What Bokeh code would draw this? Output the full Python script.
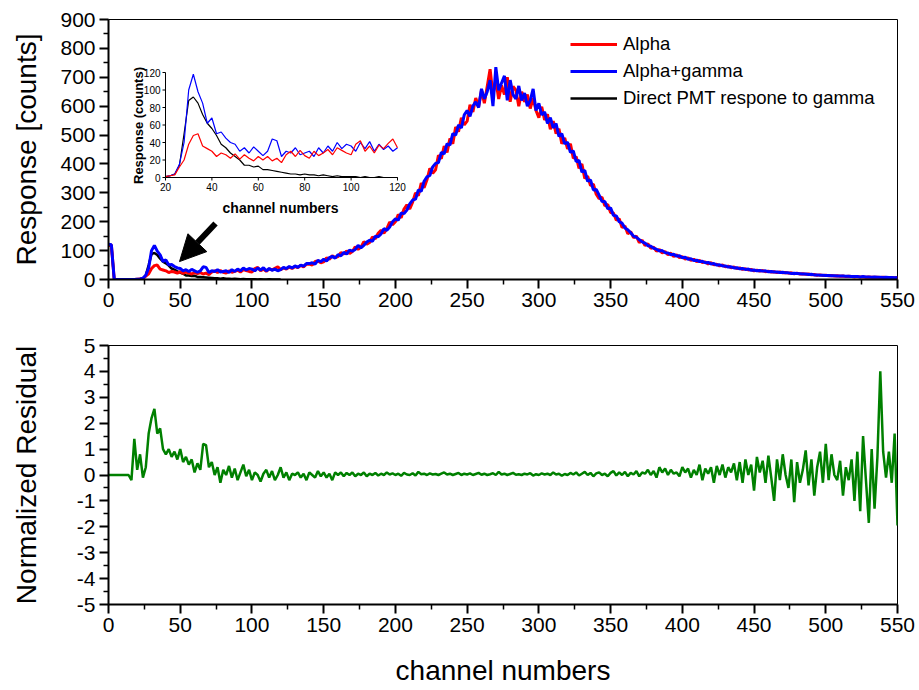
from bokeh.plotting import figure
from bokeh.layouts import column
from bokeh.models import (Range1d, Legend, LegendItem, Arrow, NormalHead, FixedTicker)
from bokeh.core.properties import value
from bokeh.embed import file_html
from bokeh.resources import INLINE

FONT = "Liberation Sans"

# ---------------- data ----------------
channels = list(range(0, 551, 2))

alpha = [
    118, 120, 0, 0, 0, 0, 0, 0, 0, 0,            # 0-18
    1, 2, 3, 12, 20, 38, 48, 50, 36, 33,         # 20-38
    30, 24, 28, 26, 22, 27, 21, 26, 22, 19,      # 40-58
    24, 20, 24, 19, 22, 17, 26, 30, 24, 31,      # 60-78
    25, 22, 30, 25, 28, 32, 26, 34, 31, 28,      # 80-98
    26, 38, 42, 30, 36, 28, 37, 33, 39, 44,      # 100-118
    34, 40, 36, 43, 38, 45, 41, 49, 44, 53,      # 120-138
    53, 50, 62, 64, 58, 61, 75, 70, 82, 76,      # 140-158
    79, 93, 88, 99, 90, 97, 113, 104, 112, 131,  # 160-178
    122, 128, 147, 141, 160, 170, 160, 175, 199, 190,  # 180-198
    200, 225, 214, 244, 258, 244, 268, 300, 290, 334,  # 200-218
    318, 345, 385, 368, 380, 430, 418, 462, 440, 488,  # 220-238
    470, 528, 512, 560, 535, 548, 605, 580, 628, 598,  # 240-258
    655, 610, 668, 728, 640, 690, 625, 672, 640, 700,  # 260-278
    615, 668, 655, 600, 650, 615, 640, 592, 628, 585,  # 280-298
    560, 598, 552, 572, 520, 548, 505, 522, 470, 490,  # 300-318
    452, 470, 420, 425, 385, 400, 350, 358, 325, 330,  # 320-338
    295, 280, 285, 255, 260, 232, 230, 205, 210, 180,  # 340-358
    185, 158, 166, 145, 150, 128, 136, 118, 124, 108,  # 360-378
    112, 98, 104, 92, 97, 86, 91, 80, 85, 76,    # 380-398
    79, 71, 75, 66, 70, 62, 66, 59, 61, 54,      # 400-418
    58, 51, 53, 47, 50, 44, 46, 41, 43, 38,      # 420-438
    40, 35, 37, 33, 35, 30, 32, 29, 31, 27,      # 440-458
    29, 26, 27, 24, 26, 23, 24, 22, 23, 20,      # 460-478
    22, 19, 20, 18, 19, 16, 17, 15, 16, 14,      # 480-498
    15, 13, 14, 12, 13, 11, 12, 10, 11, 10,      # 500-518
    9, 10, 9, 9, 8, 9, 8, 8, 8, 7,               # 520-538
    8, 7, 7, 7, 6, 7,                            # 540-550
]

alpha_gamma = [
    122, 120, 0, 0, 0, 0, 0, 0, 0, 0,            # 0-18
    1, 2, 4, 15, 40, 100, 118, 98, 85, 62,       # 20-38
    68, 50, 52, 45, 40, 38, 30, 34, 28, 35,      # 40-58
    30, 25, 30, 44, 42, 24, 30, 28, 34, 26,      # 60-78
    28, 30, 24, 34, 28, 36, 30, 40, 33, 38,      # 80-98
    36, 30, 40, 33, 41, 30, 38, 32, 36, 30,      # 100-118
    34, 42, 38, 45, 40, 47, 42, 50, 46, 55,      # 120-138
    55, 58, 53, 66, 62, 70, 64, 76, 80, 74,      # 140-158
    86, 82, 94, 88, 102, 98, 104, 118, 110, 118, # 160-178
    130, 136, 132, 150, 148, 158, 176, 170, 182, 200,  # 180-198
    210, 205, 230, 228, 240, 262, 275, 278, 310, 305,  # 200-218
    340, 355, 360, 390, 402, 405, 440, 435, 470, 465,  # 220-238
    505, 500, 535, 525, 570, 585, 565, 600, 615, 595,  # 240-258
    660, 625, 650, 690, 600, 735, 655, 680, 705, 620,  # 260-278
    690, 640, 625, 670, 620, 645, 600, 620, 660, 585,  # 280-298
    610, 570, 580, 540, 560, 525, 540, 495, 505, 470,  # 300-318
    475, 440, 445, 408, 412, 372, 378, 340, 345, 310,  # 320-338
    312, 292, 270, 270, 245, 248, 222, 220, 200, 195,  # 340-358
    178, 172, 162, 150, 146, 138, 130, 126, 117, 115,  # 360-378
    108, 105, 99, 100, 93, 92, 86, 87, 81, 82,   # 380-398
    75, 77, 70, 72, 66, 67, 62, 63, 58, 59,      # 400-418
    54, 55, 50, 51, 47, 47, 43, 44, 40, 41,      # 420-438
    37, 38, 35, 36, 32, 33, 30, 31, 29, 30,      # 440-458
    27, 28, 26, 26, 24, 25, 23, 23, 21, 22,      # 460-478
    21, 20, 19, 19, 17, 18, 16, 16, 15, 15,      # 480-498
    14, 14, 13, 13, 12, 12, 12, 11, 11, 10,      # 500-518
    10, 10, 9, 10, 9, 9, 8, 9, 8, 8,             # 520-538
    7, 8, 7, 7, 6, 7,                            # 540-550
]

gamma_channels = list(range(0, 121, 2))
gamma = [
    120, 118, 0, 0, 0, 0, 0, 0, 0, 0,            # 0-18
    1, 2, 4, 14, 50, 88, 92, 85, 72, 62,         # 20-38
    56, 48, 38, 34, 28, 24, 20, 14, 14, 12,      # 40-58
    13, 9, 9, 8, 7, 6, 5, 4, 4, 3,               # 60-78
    4, 3, 3, 2, 3, 2, 1, 2, 1, 1,                # 80-98
    1, 1, 0, 1, 0, 0, 1, 0, 0, 0, 0,             # 100-120
]

residual = [
    0, 0, 0, 0, 0, 0, 0, 0, -0.2, 1.4,                       # 0-18
    0.2, 0.8, -0.1, 0.3, 1.6, 2.2, 2.55, 1.6, 1.8, 1.0,      # 20-38
    0.8, 1.0, 0.7, 0.9, 0.6, 1.0, 0.5, 0.7, 0.4, 0.6,        # 40-58
    0.1, 0.45, 0.2, 1.2, 1.15, 0.3, 0.5, 0.0, 0.3, -0.3,     # 60-78
    0.2, 0.0, 0.35, -0.1, 0.25, -0.2, 0.1, 0.4, -0.05, 0.2,  # 80-98
    -0.2, 0.1, 0.0, -0.25, 0.05, 0.2, -0.1, 0.15, -0.2, 0.0, # 100-118
    0.3, -0.1, 0.1, -0.2, 0.05, 0.0, 0.1, -0.1, 0.05, -0.2,  # 120-138
    0.1, 0.0, -0.1, 0.15, -0.05, 0.1, -0.1, 0.05, -0.2, 0.1, # 140-158
    0.0, 0.1, -0.05, 0.08, 0.0, 0.1, -0.05, 0.05, 0.0, 0.1,  # 160-178
    -0.05, 0.05, 0.0, 0.08, -0.02, 0.05, 0.0, 0.1, 0.02, 0.06,  # 180-198
    0.0, 0.05, -0.03, 0.08, 0.02, 0.0, 0.07, -0.02, 0.12, 0.03,  # 200-218
    0.05, 0.0, 0.06, 0.02, 0.04, 0.0, 0.05, 0.1, 0.02, 0.05,     # 220-238
    0.0, 0.04, 0.08, 0.0, 0.05, 0.02, 0.06, 0.0, 0.04, 0.08,     # 240-258
    0.01, 0.05, 0.0, 0.03, 0.07, 0.0, 0.12, 0.02, 0.05, 0.0,     # 260-278
    0.04, 0.08, 0.01, 0.03, 0.0, 0.05, 0.02, 0.07, -0.02, 0.03,  # 280-298
    0.0, 0.06, 0.02, 0.05, 0.0, 0.1, 0.02, 0.05, -0.03, 0.04,    # 300-318
    0.0, 0.08, 0.02, 0.1, -0.02, 0.05, 0.12, 0.0, 0.08, -0.05,   # 320-338
    0.06, 0.1, 0.0, 0.05, -0.05, 0.08, 0.15, -0.02, 0.1, 0.0,    # 340-358
    0.12, -0.05, 0.08, 0.02, 0.15, -0.05, 0.1, 0.05, 0.2, 0.0,   # 360-378
    0.15, -0.1, 0.3, 0.1, 0.25, 0.0, 0.2, 0.05, 0.1, -0.05,      # 380-398
    0.3, 0.1, 0.25, -0.1, 0.2, 0.0, 0.4, -0.2, 0.25, 0.05,       # 400-418
    0.3, -0.3, 0.35, 0.0, 0.4, -0.1, 0.3, 0.1, 0.45, -0.2,       # 420-438
    0.5, -0.3, 0.6, 0.0, 0.4, -0.6, 0.7, 0.1, 0.55, -0.3,        # 440-458
    0.75, -0.1, -1.0, 0.6, -0.2, 0.8, 0.0, -0.5, 0.6, -1.05,     # 460-478
    0.5, -0.3, 0.2, 0.95, -0.4, 0.6, -0.8, 0.3, 0.9, -0.3,       # 480-498
    1.2, -0.2, 0.8, 0.0, -0.2, 0.55, -0.8, 0.3, -0.2, 0.6,       # 500-518
    -1.0, 0.9, -1.4, 1.5, -0.2, -1.85, 1.0, -1.3, 0.7, 4.0,      # 520-538
    0.9, -0.1, 0.9, -0.3, 1.6, -1.95,                            # 540-550
]

x_ticks = list(range(0, 551, 50))
x_minor = list(range(25, 551, 50))
top_y_ticks = list(range(0, 901, 100))
top_y_minor = list(range(50, 900, 100))
res_y_ticks = list(range(-5, 6))
res_y_minor = [t + 0.5 for t in range(-5, 5)]
res_y_labels = {t: str(t) for t in res_y_ticks}
inset_x_ticks = [20, 40, 60, 80, 100, 120]
inset_y_ticks = [0, 20, 40, 60, 80, 100, 120]

legend_labels = ["Alpha", "Alpha+gamma", "Direct PMT respone to gamma"]
RED, BLUE, BLACK, GREEN = "#ff0000", "#0000ff", "#000000", "#008000"

# ---------------- layout geometry (pixels) ----------------
W = 919
FL, FR = 108, 897          # frame left / right
TOP_T, TOP_B = 19, 279     # top frame
TOP_H = 320
BOT_T, BOT_B = 345, 604    # bottom frame (page coords)
BOT_H = 690 - TOP_H

# inset placement in the top frame (pixel box) and its data extents
IN_X0, IN_X1, IN_PX0, IN_PX1 = 20, 120, 165, 397
IN_Y0, IN_Y1, IN_PY0, IN_PY1 = 0, 120, 177, 72
sx = (IN_PX1 - IN_PX0) / (IN_X1 - IN_X0)
sy = (IN_PY0 - IN_PY1) / (IN_Y1 - IN_Y0)
ix_start = IN_X0 - (IN_PX0 - FL) / sx
ix_end = ix_start + (FR - FL) / sx
iy_start = IN_Y0 - (TOP_B - IN_PY0) / sy
iy_end = iy_start + (TOP_B - TOP_T) / sy


def style(p, yt, ym, y_standoff):
    p.xaxis.ticker = FixedTicker(ticks=x_ticks, minor_ticks=x_minor)
    p.yaxis.ticker = FixedTicker(ticks=yt, minor_ticks=ym)
    for ax in (p.xaxis[0], p.yaxis[0]):
        ax.axis_line_width = 2
        ax.axis_line_color = "black"
        ax.major_tick_line_width = 2
        ax.minor_tick_line_width = 1.5
        ax.major_tick_out = 9
        ax.major_tick_in = 0
        ax.minor_tick_out = 5
        ax.minor_tick_in = 0
        ax.major_label_text_font = FONT
        ax.major_label_text_font_size = "21px"
        ax.major_label_text_color = "black"
        ax.major_label_standoff = 4
        ax.axis_label_text_font = FONT
        ax.axis_label_text_font_size = "28px"
        ax.axis_label_text_font_style = "normal"
        ax.axis_label_text_color = "black"
    p.yaxis[0].axis_label_standoff = y_standoff
    p.xgrid.visible = False
    p.ygrid.visible = False
    p.outline_line_color = "black"
    p.outline_line_width = 1
    p.outline_line_alpha = 1
    p.background_fill_color = "white"
    p.border_fill_color = "white"


# ---------------- top panel ----------------
top = figure(width=W, height=TOP_H, x_range=Range1d(0, 550), y_range=Range1d(0, 900),
             output_backend="svg", toolbar_location=None,
             min_border_left=FL, min_border_right=W - FR,
             min_border_top=TOP_T, min_border_bottom=TOP_H - TOP_B)
top.extra_x_ranges = {"ix": Range1d(ix_start, ix_end)}
top.extra_y_ranges = {"iy": Range1d(iy_start, iy_end)}
style(top, top_y_ticks, top_y_minor, 15)
top.yaxis.axis_label = "Response [counts]"

r_g = top.line(gamma_channels, gamma, line_color=BLACK, line_width=2.5)
r_a = top.line(channels, alpha, line_color=RED, line_width=3)
r_ag = top.line(channels, alpha_gamma, line_color=BLUE, line_width=3)

legend = Legend(items=[LegendItem(label=legend_labels[0], renderers=[r_a]),
                       LegendItem(label=legend_labels[1], renderers=[r_ag]),
                       LegendItem(label=legend_labels[2], renderers=[r_g])],
                location=(462, 170), orientation="vertical",
                label_text_font=FONT, label_text_font_size="18.5px",
                label_text_color="black",
                glyph_width=47, glyph_height=18, label_height=18, spacing=5,
                padding=0, margin=0, label_standoff=6,
                border_line_color=None, background_fill_alpha=0)
top.add_layout(legend)

# arrow pointing at the low-channel gamma peak
ARROW_TAIL = (74.6, 194)
ARROW_TIP = (49.5, 62)
top.add_layout(Arrow(end=NormalHead(size=26, fill_color="black", line_color="black"),
                     x_start=ARROW_TAIL[0], y_start=ARROW_TAIL[1],
                     x_end=ARROW_TIP[0], y_end=ARROW_TIP[1],
                     line_width=6, line_color="black"))

# ---------------- inset (drawn with its own ranges) ----------------
i0 = gamma_channels.index(IN_X0)
i1 = gamma_channels.index(IN_X1) + 1
inset_kw = dict(x_range_name="ix", y_range_name="iy")
top.line(gamma_channels[i0:i1], gamma[i0:i1], line_color=BLACK, line_width=1.2, **inset_kw)
top.line(channels[i0:i1], alpha_gamma[i0:i1], line_color=BLUE, line_width=1.2, **inset_kw)
top.line(channels[i0:i1], alpha[i0:i1], line_color=RED, line_width=1.2, **inset_kw)

# inset axes
tick_x = 3 / sx
tick_y = 3 / sy
top.segment(x0=[IN_X0], y0=[IN_Y0], x1=[IN_X0], y1=[IN_Y1], line_color="black", line_width=1, **inset_kw)
top.segment(x0=[IN_X0], y0=[IN_Y0], x1=[IN_X1], y1=[IN_Y0], line_color="black", line_width=1, **inset_kw)
top.segment(x0=[IN_X0] * len(inset_y_ticks), y0=inset_y_ticks,
            x1=[IN_X0 - tick_x] * len(inset_y_ticks), y1=inset_y_ticks,
            line_color="black", line_width=1, **inset_kw)
top.segment(x0=inset_x_ticks, y0=[IN_Y0] * len(inset_x_ticks),
            x1=inset_x_ticks, y1=[IN_Y0 - tick_y] * len(inset_x_ticks),
            line_color="black", line_width=1, **inset_kw)
top.text(x=[IN_X0 - 5 / sx] * len(inset_y_ticks), y=inset_y_ticks,
         text=[str(t) for t in inset_y_ticks], text_font=value(FONT),
         text_font_size="10px", text_align="right", text_baseline="middle",
         text_color="black", **inset_kw)
top.text(x=inset_x_ticks, y=[IN_Y0 - 5 / sy] * len(inset_x_ticks),
         text=[str(t) for t in inset_x_ticks], text_font=value(FONT),
         text_font_size="10px", text_align="center", text_baseline="top",
         text_color="black", **inset_kw)
top.text(x=[IN_X0 + (138 - IN_PX0) / sx], y=[(IN_PY0 - 125) / sy],
         text=["Response (counts)"], text_font=value(FONT), text_font_style="bold",
         text_font_size="13px", text_align="center", text_baseline="middle",
         angle=1.5708, text_color="black", **inset_kw)
top.text(x=[IN_X0 + (280 - IN_PX0) / sx], y=[(IN_PY0 - 207) / sy],
         text=["channel numbers"], text_font=value(FONT), text_font_style="bold",
         text_font_size="14px", text_align="center", text_baseline="middle",
         text_color="black", **inset_kw)

# ---------------- bottom panel ----------------
bot = figure(width=W, height=BOT_H, x_range=Range1d(0, 550), y_range=Range1d(-5, 5),
             output_backend="svg", toolbar_location=None,
             min_border_left=FL, min_border_right=W - FR,
             min_border_top=BOT_T - TOP_H, min_border_bottom=690 - BOT_B)
style(bot, res_y_ticks, res_y_minor, 32)
bot.yaxis.major_label_overrides = res_y_labels
bot.yaxis.axis_label = "Normalized Residual"
bot.xaxis.axis_label = "channel numbers"
bot.xaxis.axis_label_standoff = 20
bot.line(channels, residual, line_color=GREEN, line_width=2.5)

layout = column(top, bot, spacing=0)
open("out.html", "w").write(file_html(layout, INLINE))
